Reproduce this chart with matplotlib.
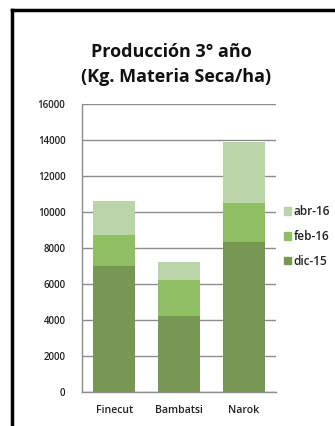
import matplotlib.pyplot as plt
from matplotlib.lines import Line2D
from matplotlib.patches import Patch

# --- Data ---
varieties = ["Finecut", "Bambatsi", "Narok"]
dic_15 = [7000, 4200, 8350]
feb_16 = [1700, 2000, 2150]
abr_16 = [1900, 1000, 3400]
y_ticks = [0, 2000, 4000, 6000, 8000, 10000, 12000, 14000, 16000]

c_dic = "#779852"
c_feb = "#8fbe63"
c_abr = "#bcd5a8"
grid_c = "#8c8c8c"

plt.rcParams['font.family'] = ['Open Sans', 'DejaVu Sans']

fig = plt.figure(figsize=(3.35, 4.26), dpi=100)
ax = fig.add_axes([0.245, 0.0798, 0.579, 0.676])

x = range(len(varieties))
bottom2 = [a + b for a, b in zip(dic_15, feb_16)]
ax.bar(x, dic_15, width=0.65, color=c_dic, zorder=3)
ax.bar(x, feb_16, width=0.65, bottom=dic_15, color=c_feb, zorder=3)
ax.bar(x, abr_16, width=0.65, bottom=bottom2, color=c_abr, zorder=3)

ax.set_xlim(-0.5, 2.5)
ax.set_ylim(0, 16000)
ax.set_yticks(y_ticks)
ax.set_yticklabels([str(v) for v in y_ticks], fontsize=7.0, color="#222222",
                   fontweight="semibold")
ax.set_xticks(list(x))
ax.set_xticklabels(varieties, fontsize=7.6, color="#222222", fontweight="semibold")
ax.tick_params(axis='both', length=0)
ax.tick_params(axis='x', pad=9)
ax.tick_params(axis='y', pad=12)
ax.yaxis.grid(True, color=grid_c, linewidth=1, zorder=0)
for s in ["top", "right"]:
    ax.spines[s].set_visible(False)
for s in ["left", "bottom"]:
    ax.spines[s].set_color(grid_c)
    ax.spines[s].set_linewidth(1)

handles = [Patch(color=c_abr, label="abr-16"),
           Patch(color=c_feb, label="feb-16"),
           Patch(color=c_dic, label="dic-15")]
leg = ax.legend(handles=handles, loc="center left", bbox_to_anchor=(0.985, 0.54),
                frameon=False, fontsize=8.5, handlelength=0.6, handleheight=0.6,
                handletextpad=0.25, labelspacing=1.0)
for t in leg.get_texts():
    t.set_fontweight("semibold")
    t.set_color("#222222")

fig.text(0.513, 0.878, "Producción 3° año", ha="center", va="center",
         fontsize=13, fontweight="bold", color="#111111")
fig.text(0.525, 0.819, "(Kg. Materia Seca/ha)", ha="center", va="center",
         fontsize=13, fontweight="bold", color="#111111")

# frame border (left and top)
fig.add_artist(Line2D([12 / 335, 12 / 335], [0, 1 - 10 / 426], color="black",
                      linewidth=2.5, transform=fig.transFigure))
fig.add_artist(Line2D([12 / 335, 1], [1 - 10 / 426, 1 - 10 / 426], color="black",
                      linewidth=2.5, transform=fig.transFigure))

fig.savefig("out.png", dpi=100)
